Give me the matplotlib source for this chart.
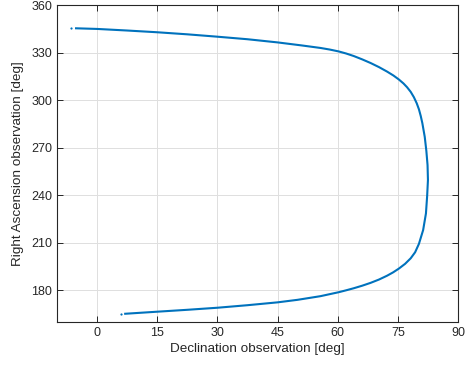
import matplotlib
matplotlib.use("Agg")
import matplotlib.pyplot as plt

# track (declination vs right ascension, deg)
dec = [-5.25, 0, 7.5, 15, 22.5, 30, 37.5, 45, 51, 55.7, 58, 60.25, 62.1, 64,
       66.1, 68.2, 70.3, 72.3, 73.9, 75.25, 76.4, 77.3, 78.2, 79.0, 79.7,
       80.25, 80.7, 81.1, 81.7, 82.1, 82.4, 82.5, 82.3, 82.0, 81.3, 80.25,
       79.3, 78.2, 76.8, 75.25, 73.8, 72.3, 70.3, 68.2, 66.1, 64, 62.1, 60.25,
       55.7, 50, 45, 37.5, 30, 22.5, 15, 7]
ra = [345.3, 344.9, 343.9, 342.8, 341.5, 340.0, 338.4, 336.4, 334.5, 332.9,
      331.9, 330.7, 329.4, 327.8, 325.7, 323.4, 320.8, 318.0, 315.5, 313.0,
      310.5, 308.1, 305.2, 301.8, 298.0, 294.2, 290.0, 285.5, 276.8, 268.0,
      259.0, 249.6, 239.5, 228.5, 218.0, 209.3, 204.0, 200.2, 196.7, 193.7,
      191.3, 189.2, 186.8, 184.7, 182.9, 181.3, 180.0, 178.8, 176.3, 174.0,
      172.4, 170.6, 169.0, 167.7, 166.5, 165.2]
# isolated first/last samples
dot_dec = [-6.4, 6.0]
dot_ra = [345.5, 165.0]

plt.rcParams["font.family"] = ["Liberation Sans", "DejaVu Sans"]
fg = "#262626"

fig = plt.figure(figsize=(4.65, 3.65), dpi=100)
ax = fig.add_axes([0.1226, 0.1178, 0.8624, 0.8685])
ax.plot(dec, ra, color="#0072BD", lw=1.5, solid_joinstyle="round")
ax.plot(dot_dec, dot_ra, ls="none", marker="o", ms=1.6, color="#0072BD", mew=0)

ax.set_xlim(-10, 90)
ax.set_ylim(160, 360)
ax.set_xticks(range(0, 91, 15))
ax.set_yticks(range(180, 361, 30))
ax.grid(True, color="#dfdfdf", lw=0.7)
ax.set_axisbelow(True)
ax.tick_params(direction="in", length=4, width=0.7, colors=fg, labelsize=9,
               top=True, right=True)
for s in ax.spines.values():
    s.set_color(fg)
    s.set_linewidth(0.8)
ax.set_xlabel("Declination observation [deg]", fontsize=9.7, color=fg, labelpad=3)
ax.set_ylabel("Right Ascension observation [deg]", fontsize=9.7, color=fg, labelpad=5)

fig.savefig("out.png", dpi=100)
